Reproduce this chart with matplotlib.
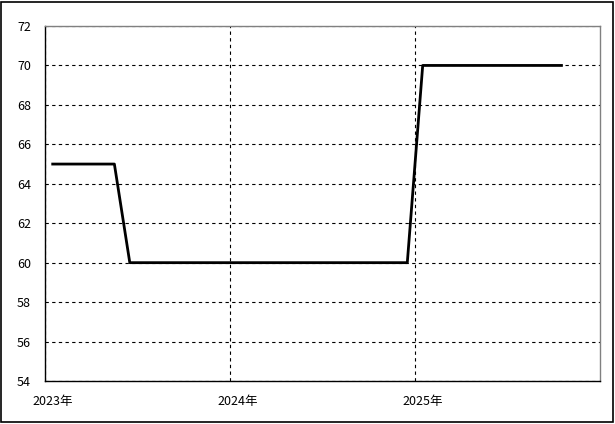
import numpy as np
import matplotlib
matplotlib.use("Agg")
import matplotlib.pyplot as plt
from matplotlib.patches import Rectangle

plt.rcParams['font.family'] = ['Noto Sans CJK JP', 'DejaVu Sans']

# 月次データ (2023年1月～2025年10月)
months = ['2023-01', '2023-02', '2023-03', '2023-04', '2023-05', '2023-06',
          '2023-07', '2023-08', '2023-09', '2023-10', '2023-11', '2023-12',
          '2024-01', '2024-02', '2024-03', '2024-04', '2024-05', '2024-06',
          '2024-07', '2024-08', '2024-09', '2024-10', '2024-11', '2024-12',
          '2025-01', '2025-02', '2025-03', '2025-04', '2025-05', '2025-06',
          '2025-07', '2025-08', '2025-09', '2025-10']
values = [65, 65, 65, 65, 65, 60,
          60, 60, 60, 60, 60, 60,
          60, 60, 60, 60, 60, 60,
          60, 60, 60, 60, 60, 60,
          70, 70, 70, 70, 70, 70,
          70, 70, 70, 70]
year_labels = ['2023年', '2024年', '2025年']
y_ticks = [54, 56, 58, 60, 62, 64, 66, 68, 70, 72]

start_year = int(months[0][:4])
# 月の中央に点を置く
x = np.array([(int(m[:4]) - start_year) * 12 + int(m[5:]) - 1 for m in months]) + 0.5

fig = plt.figure(figsize=(6.15, 4.24), dpi=100)
fig.patches.append(Rectangle((0.002, 0.004), 0.994, 0.992, transform=fig.transFigure,
                             fill=False, edgecolor='black', linewidth=1.2))
ax = fig.add_axes([45 / 615, 43 / 424, 555 / 615, 355 / 424])

ax.plot(x, values, color='black', linewidth=2)

ax.set_xlim(0, 36)
ax.set_ylim(54, 72)
ax.set_yticks(y_ticks)
ax.set_xticks([0, 12, 24])
ax.set_xticklabels([])
ax.set_xticks([0.5, 12.5, 24.5], minor=True)
ax.set_xticklabels(year_labels, minor=True)

ax.grid(True, which='major', color='black', linestyle=(0, (3, 3)), linewidth=0.8)
ax.tick_params(axis='both', which='both', length=0, labelsize=9)
ax.tick_params(axis='y', pad=10)
ax.tick_params(axis='x', which='minor', pad=10)

ax.spines['left'].set_color('black')
ax.spines['bottom'].set_color('black')
ax.spines['top'].set_color('gray')
ax.spines['right'].set_color('gray')
for s in ax.spines.values():
    s.set_linewidth(1)

fig.savefig('out.png', dpi=100)
